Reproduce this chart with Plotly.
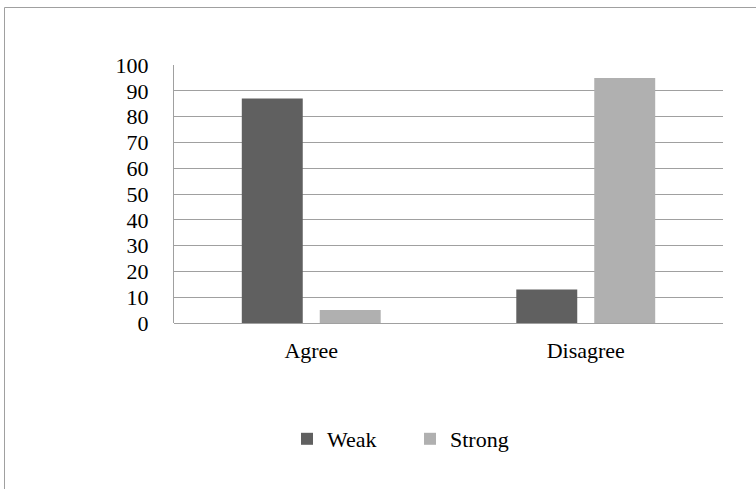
import plotly.graph_objects as go

categories = ["Agree", "Disagree"]
weak = [87, 13]
strong = [5, 95]
y_ticks = [0, 10, 20, 30, 40, 50, 60, 70, 80, 90, 100]

W, H = 756, 489
L, R, T, B = 174, 33, 65, 166
pw, ph = W - L - R, H - T - B


def px_x(x):
    return (x - L) / pw


def px_y(y):
    return (H - B - y) / ph


font = dict(family="Liberation Serif", size=22, color="#000000")

fig = go.Figure()
fig.add_trace(go.Bar(name="Weak", x=categories, y=weak,
                     marker=dict(color="#606060", line=dict(width=0))))
fig.add_trace(go.Bar(name="Strong", x=categories, y=strong,
                     marker=dict(color="#b0b0b0", line=dict(width=0))))

fig.update_layout(
    width=W, height=H,
    margin=dict(l=L, r=R, t=T, b=B, pad=0),
    paper_bgcolor="white", plot_bgcolor="white",
    font=font,
    barmode="group", bargap=0.432, bargroupgap=0.218,
    showlegend=True,
    legend=dict(orientation="h", x=px_x(410), xanchor="center",
                y=px_y(439), yanchor="middle", font=font,
                itemwidth=30, entrywidth=78, bgcolor="rgba(0,0,0,0)"),
    xaxis=dict(showline=False, showgrid=False, ticks="",
               ticklabelstandoff=12, tickfont=font),
    yaxis=dict(range=[0, 100], tickvals=y_ticks, showgrid=True,
               gridcolor="#a0a0a0", gridwidth=1, zeroline=True,
               zerolinecolor="#a0a0a0", zerolinewidth=1,
               showline=True, linecolor="#a0a0a0", linewidth=1,
               ticks="", ticklabelstandoff=20, tickfont=font),
    shapes=[
        dict(type="rect", xref="paper", yref="paper",
             x0=px_x(4.5), x1=px_x(770), y0=px_y(500), y1=px_y(7.5),
             line=dict(color="#a0a0a0", width=1), fillcolor="rgba(0,0,0,0)",
             layer="below"),
    ],
)

fig.write_html("out.html")
